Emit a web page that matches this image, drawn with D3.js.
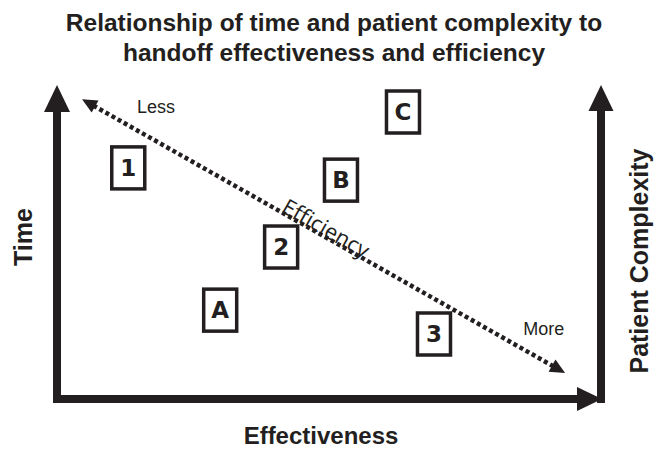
<!DOCTYPE html>
<meta charset="utf-8">
<script src="https://d3js.org/d3.v7.min.js"></script>
<style>
body { margin: 0; background: #fff; }
.title { font: bold 24.5px "Liberation Sans", Arial, sans-serif; fill: #231f20; }
.axis-label { font: bold 25px "Liberation Sans", Arial, sans-serif; fill: #231f20; }
.box rect { fill: #fff; stroke: #231f20; stroke-width: 3.5px; }
.box text { font: bold 23px "DejaVu Sans", sans-serif; fill: #231f20; }
.end-label { font: 18px "Liberation Sans", Arial, sans-serif; fill: #231f20; }
.eff-label { font: 22px "Open Sans", sans-serif; fill: #231f20; }
</style>
<div id="chart"></div>
<script>
// chart content
var titleLines = ["Relationship of time and patient complexity to",
                  "handoff effectiveness and efficiency"];
var boxLabels = ["1", "C", "B", "2", "A", "3"];
var boxEffectiveness = [1.31, 6.36, 5.22, 4.12, 3.00, 6.93];
var boxTime = [7.36, 9.14, 6.97, 4.84, 2.83, 2.07];
var efficiencyStart = [0.46, 9.55];   // [effectiveness, time]
var efficiencyEnd = [9.34, 0.83];
var endLabels = ["Less", "More"];
var endLabelPos = [[1.47, 9.11], [8.57, 2.04]];

var W = 668, H = 451;
var ink = "#231f20";

var svg = d3.select("#chart").append("svg")
    .attr("width", W).attr("height", H);

var x = d3.scaleLinear().domain([0, 10]).range([57, 601]);
var y = d3.scaleLinear().domain([0, 10]).range([399, 85]);

// title
svg.selectAll(".title").data(titleLines).enter().append("text")
    .attr("class", "title")
    .attr("x", 334)
    .attr("y", function(d, i) { return 31 + i * 30; })
    .attr("text-anchor", "middle")
    .text(function(d) { return d; });

// main axes (thick arrows)
var shaft = 8;
// left: Time
svg.append("rect")
    .attr("x", x(0) - shaft / 2).attr("y", y(10) + 20)
    .attr("width", shaft).attr("height", y(0) + shaft / 2 - y(10) - 20)
    .attr("fill", ink);
svg.append("path")
    .attr("d", "M" + x(0) + "," + y(10) + "L" + (x(0) + 13) + "," + (y(10) + 27) +
               "L" + (x(0) - 13) + "," + (y(10) + 27) + "Z")
    .attr("fill", ink);
// right: Patient Complexity
svg.append("rect")
    .attr("x", x(10) - shaft / 2).attr("y", y(10) + 20)
    .attr("width", shaft).attr("height", y(0) + shaft / 2 - y(10) - 20)
    .attr("fill", ink);
svg.append("path")
    .attr("d", "M" + x(10) + "," + y(10) + "L" + (x(10) + 12.5) + "," + (y(10) + 26) +
               "L" + (x(10) - 12.5) + "," + (y(10) + 26) + "Z")
    .attr("fill", ink);
// bottom: Effectiveness
svg.append("rect")
    .attr("x", x(0) - shaft / 2).attr("y", y(0) - shaft / 2)
    .attr("width", x(10) - x(0) - 20).attr("height", shaft)
    .attr("fill", ink);
svg.append("path")
    .attr("d", "M" + (x(10) + 1) + "," + y(0) + "L" + (x(10) - 24) + "," + (y(0) - 12) +
               "L" + (x(10) - 24) + "," + (y(0) + 12) + "Z")
    .attr("fill", ink);

// axis titles
svg.append("text").attr("class", "axis-label")
    .attr("x", 321).attr("y", 444)
    .attr("text-anchor", "middle")
    .style("font-size", "24px")
    .text("Effectiveness");
svg.append("text").attr("class", "axis-label")
    .attr("transform", "translate(32,237) rotate(-90)")
    .attr("text-anchor", "middle")
    .text("Time");
svg.append("text").attr("class", "axis-label")
    .attr("transform", "translate(648,261) rotate(-90)")
    .attr("text-anchor", "middle")
    .text("Patient Complexity");

// efficiency dotted double arrow
var x1 = x(efficiencyStart[0]), y1 = y(efficiencyStart[1]),
    x2 = x(efficiencyEnd[0]), y2 = y(efficiencyEnd[1]);
var ang = Math.atan2(y2 - y1, x2 - x1);
var ux = Math.cos(ang), uy = Math.sin(ang);
var headLen = 15, headW = 7;
svg.append("line")
    .attr("x1", x1 + ux * (headLen - 2)).attr("y1", y1 + uy * (headLen - 2))
    .attr("x2", x2 - ux * (headLen - 2)).attr("y2", y2 - uy * (headLen - 2))
    .attr("stroke", ink).attr("stroke-width", 4.5)
    .attr("stroke-dasharray", "4,3");
function head(tx, ty, dx, dy) {
  var bx = tx - dx * headLen, by = ty - dy * headLen;
  return "M" + tx + "," + ty +
         "L" + (bx - dy * headW) + "," + (by + dx * headW) +
         "L" + (bx + dy * headW) + "," + (by - dx * headW) + "Z";
}
svg.append("path").attr("d", head(x1, y1, -ux, -uy)).attr("fill", ink);
svg.append("path").attr("d", head(x2, y2, ux, uy)).attr("fill", ink);

// efficiency label along the line
var ex = 322, ey = y1 + (ex - x1) * Math.tan(ang);
svg.append("text").attr("class", "eff-label")
    .attr("transform", "translate(" + ex + "," + ey + ") rotate(" + (ang * 180 / Math.PI) + ")")
    .attr("text-anchor", "middle")
    .text("Efficiency");

// less / more
svg.selectAll(".end-label").data(endLabels).enter().append("text")
    .attr("class", "end-label")
    .attr("x", function(d, i) { return x(endLabelPos[i][0]); })
    .attr("y", function(d, i) { return y(endLabelPos[i][1]); })
    .text(function(d) { return d; });

// boxes
var bw = 33, bh = 42;
var boxes = svg.selectAll(".box").data(boxLabels).enter().append("g")
    .attr("class", "box")
    .attr("transform", function(d, i) {
      return "translate(" + x(boxEffectiveness[i]) + "," + y(boxTime[i]) + ")";
    });
boxes.append("rect")
    .attr("x", -bw / 2).attr("y", -bh / 2)
    .attr("width", bw).attr("height", bh);
boxes.append("text")
    .attr("text-anchor", "middle")
    .attr("dy", "0.36em")
    .text(function(d) { return d; });
</script>
